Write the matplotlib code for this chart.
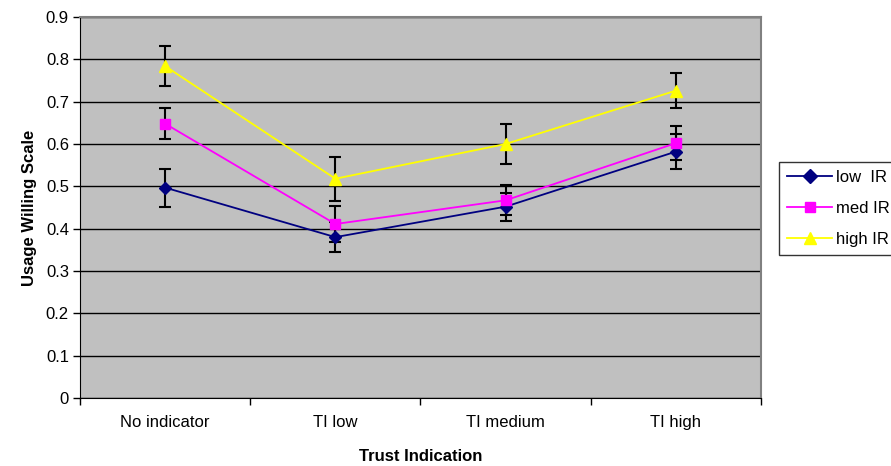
import matplotlib.pyplot as plt
import numpy as np

plt.rcParams['font.family'] = ['Liberation Sans', 'DejaVu Sans']

categories = ['No indicator', 'TI low', 'TI medium', 'TI high']
low_ir = [0.497, 0.380, 0.452, 0.582]
low_err = [0.045, 0.035, 0.033, 0.042]
med_ir = [0.648, 0.411, 0.467, 0.602]
med_err = [0.036, 0.042, 0.035, 0.040]
high_ir = [0.784, 0.518, 0.600, 0.726]
high_err = [0.047, 0.052, 0.047, 0.042]

fig = plt.figure(figsize=(8.91, 4.66), dpi=100)
ax = fig.add_axes([0.0898, 0.1459, 0.7642, 0.8176])
ax.set_facecolor('#C0C0C0')

x = np.arange(len(categories))

series = [
    (low_ir, low_err, '#000080', 'D', 6.5, 'low  IR'),
    (med_ir, med_err, '#FF00FF', 's', 6.5, 'med IR'),
    (high_ir, high_err, '#FFFF00', '^', 8, 'high IR'),
]
for vals, err, col, mk, ms, lab in series:
    ax.errorbar(x, vals, yerr=err, fmt='none', ecolor='black', elinewidth=1.5,
                capsize=4.5, capthick=1.5, zorder=3)
    ax.plot(x, vals, color=col, marker=mk, markersize=ms, linewidth=1.3,
            label=lab, zorder=4)

ax.set_xlim(-0.5, 3.5)
ax.set_ylim(0, 0.9)
ax.set_yticks(np.arange(0, 0.91, 0.1))
ax.set_yticklabels(['0'] + ['%.1f' % v for v in np.arange(0.1, 0.91, 0.1)])
ax.yaxis.grid(True, color='black', linewidth=1)
ax.set_axisbelow(True)

ax.set_xticks(x)
ax.set_xticklabels(categories)
ax.set_xticks(np.arange(-0.5, 3.6, 1), minor=True)
ax.tick_params(axis='x', which='major', length=0, pad=12, labelsize=12)
ax.tick_params(axis='x', which='minor', length=5, direction='out', width=1)
ax.tick_params(axis='y', length=5, direction='out', width=1, labelsize=12, pad=3)

for s in ['top', 'right']:
    ax.spines[s].set_color('#808080')
    ax.spines[s].set_linewidth(1.5)
ax.spines['left'].set_color('black')
ax.spines['bottom'].set_color('black')

ax.set_xlabel('Trust Indication', fontweight='bold', fontsize=12, labelpad=14)
ax.set_ylabel('Usage Willing Scale', fontweight='bold', fontsize=12, labelpad=6)

leg = ax.legend(loc='upper left', bbox_to_anchor=(779 / 891, 1 - 162 / 466),
                bbox_transform=fig.transFigure, frameon=True, fancybox=False,
                edgecolor='black', fontsize=12, handlelength=2.7, borderpad=0.5,
                labelspacing=0.95, handletextpad=0.25, borderaxespad=0,
                markerscale=1.15)
leg.get_frame().set_linewidth(1)

fig.savefig('out.png', dpi=100)
